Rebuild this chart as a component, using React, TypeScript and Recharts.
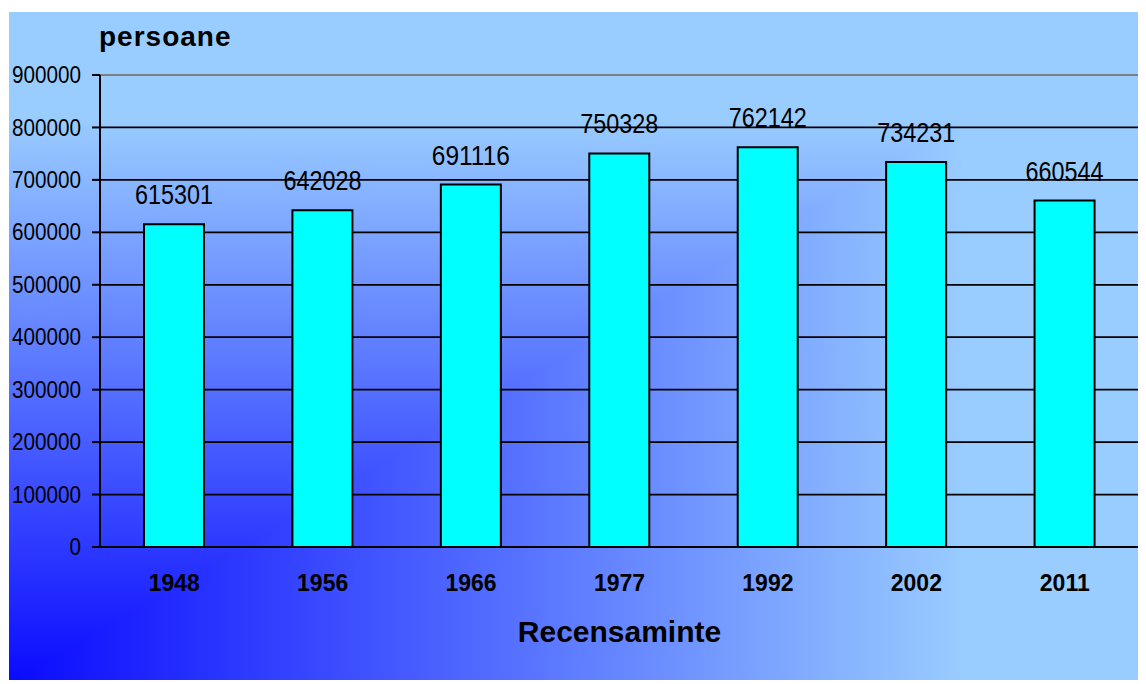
import React from 'react';
import { BarChart, Bar, XAxis, YAxis, CartesianGrid, LabelList, ReferenceLine, Label } from 'recharts';

const years = ['1948', '1956', '1966', '1977', '1992', '2002', '2011'];
const population = [615301, 642028, 691116, 750328, 762142, 734231, 660544];
const yTicks = [0, 100000, 200000, 300000, 400000, 500000, 600000, 700000, 800000, 900000];
const boundaryTicks = [0, 1, 2, 3, 4, 5, 6, 7];
const yTitle = 'persoane';
const xTitle = 'Recensaminte';

const data = years.map((y, i) => ({ year: y, value: population[i] }));

const SANS = "'Liberation Sans', Arial, sans-serif";

const YTick = (props: any) => {
  const { x, y, payload } = props;
  const s = String(payload.value);
  return (
    <text
      x={x}
      y={y}
      dy="0.355em"
      textAnchor="end"
      fontFamily={SANS}
      fontSize={23}
      fill="#000"
      textLength={s.length * 11.5}
      lengthAdjust="spacingAndGlyphs"
    >
      {s}
    </text>
  );
};

const ValueLabel = (props: any) => {
  const { x, y, width, value } = props;
  const s = String(value);
  return (
    <text
      x={Number(x) + Number(width) / 2}
      y={Number(y) - 20}
      textAnchor="middle"
      fontFamily={SANS}
      fontSize={28}
      fill="#000"
      textLength={s.length * 13}
      lengthAdjust="spacingAndGlyphs"
    >
      {s}
    </text>
  );
};

const YTitle = (props: any) => {
  const vb = props.viewBox || { x: 0, y: 0, width: 0 };
  return (
    <text
      x={vb.x + vb.width - 1}
      y={vb.y - 29}
      fontFamily={SANS}
      fontWeight="bold"
      fontSize={28}
      letterSpacing={1}
      fill="#000"
    >
      {yTitle}
    </text>
  );
};

export default function App() {
  return (
    <div
      style={{
        position: 'relative',
        left: 1,
        top: 4,
        width: 1137,
        height: 672,
        background:
          'linear-gradient(to right, #0a0aff 0%, #99ccff 84%), linear-gradient(to top, #0a0aff 0%, #99ccff 84%)',
        backgroundBlendMode: 'lighten',
      }}
    >
      <BarChart width={1137} height={672} data={data} margin={{ top: 63, right: 7, left: 0, bottom: 0 }}>
        <CartesianGrid xAxisId="edge" vertical={false} stroke="#000" strokeWidth={1.8} />
        <XAxis
          xAxisId="edge"
          type="number"
          domain={[0, 7]}
          allowDataOverflow
          ticks={boundaryTicks}
          interval={0}
          height={0}
          tick={false}
          tickSize={8}
          tickLine={{ stroke: '#000', strokeWidth: 2 }}
          axisLine={{ stroke: '#000', strokeWidth: 2 }}
        />
        <XAxis
          xAxisId="cat"
          dataKey="year"
          height={137}
          interval={0}
          tickLine={false}
          axisLine={false}
          tickSize={0}
          tickMargin={28}
          tick={{ fill: '#000', fontFamily: SANS, fontWeight: 'bold', fontSize: 23 }}
        >
          <Label
            value={xTitle}
            position="insideTop"
            offset={74}
            style={{ fill: '#000', fontFamily: SANS, fontWeight: 'bold', fontSize: 30 }}
          />
        </XAxis>
        <YAxis
          width={91}
          domain={[0, 900000]}
          ticks={yTicks}
          interval={0}
          tickSize={8}
          tickMargin={11}
          tick={<YTick />}
          tickLine={{ stroke: '#000', strokeWidth: 2 }}
          axisLine={{ stroke: '#000', strokeWidth: 2 }}
        >
          <Label content={<YTitle />} />
        </YAxis>
        <ReferenceLine xAxisId="edge" y={900000} stroke="#808080" strokeWidth={2} />
        <ReferenceLine xAxisId="edge" x={7} stroke="#808080" strokeWidth={2} />
        <Bar
          xAxisId="cat"
          dataKey="value"
          fill="#00ffff"
          stroke="#000"
          strokeWidth={2}
          barSize={60}
          isAnimationActive={false}
        >
          <LabelList dataKey="value" content={<ValueLabel />} />
        </Bar>
      </BarChart>
    </div>
  );
}
